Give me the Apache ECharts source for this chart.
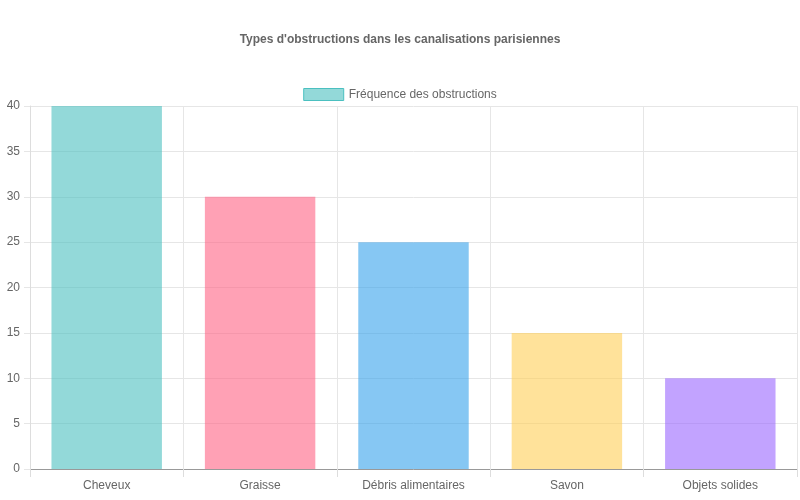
<!DOCTYPE html>
<html><head><meta charset="utf-8">
<script src="https://cdn.jsdelivr.net/npm/echarts@6/dist/echarts.min.js"></script>
<style>html,body{margin:0;padding:0;background:#fff}#c{width:800px;height:500px}</style>
</head><body><div id="c"></div>
<script>
const categories = ["Cheveux","Graisse","Débris alimentaires","Savon","Objets solides"];
const values = [40,30,25,15,10];
const colors = ["rgba(75,192,192,0.6)","rgba(255,99,132,0.6)","rgba(54,162,235,0.6)","rgba(255,206,86,0.6)","rgba(153,102,255,0.6)"];
const borders = ["rgb(75,192,192)","rgb(255,99,132)","rgb(54,162,235)","rgb(255,206,86)","rgb(153,102,255)"];
const chart = echarts.init(document.getElementById('c'));
chart.setOption({
  animation:false,
  title:{text:"Types d'obstructions dans les canalisations parisiennes",left:'center',top:29,
    textStyle:{fontFamily:'Liberation Sans, Arial',fontSize:12,fontWeight:'bold',color:'#666'}},
  legend:{top:83,left:'center',itemWidth:40,itemHeight:12,itemGap:10,
    textStyle:{fontFamily:'Liberation Sans, Arial',fontSize:12,color:'#666'},
    data:[{name:'Fréquence des obstructions',icon:'rect',itemStyle:{color:colors[0],borderColor:borders[0],borderWidth:1}}]},
  grid:{left:30,right:3,top:106,bottom:31,containLabel:false},
  xAxis:{type:'category',data:categories,boundaryGap:true,
    axisLine:{lineStyle:{color:'#999'}},
    axisTick:{show:true,length:8,lineStyle:{color:'#ddd'}},
    splitLine:{show:true,lineStyle:{color:'#e6e6e6'}},
    axisLabel:{color:'#666',fontFamily:'Liberation Sans, Arial',fontSize:12,margin:11}},
  yAxis:{type:'value',min:0,max:40,interval:5,
    axisLine:{show:true,lineStyle:{color:'#ddd'}},
    axisTick:{show:true,length:6,lineStyle:{color:'#e6e6e6'}},
    splitLine:{show:true,lineStyle:{color:'#e6e6e6'}},
    axisLabel:{color:'#666',fontFamily:'Liberation Sans, Arial',fontSize:12,margin:10}},
  series:[{name:'Fréquence des obstructions',type:'bar',barWidth:'72%',
    data:values.map((v,i)=>({value:v,itemStyle:{color:colors[i],borderColor:borders[i],borderWidth:0}}))}]
});
</script></body></html>
